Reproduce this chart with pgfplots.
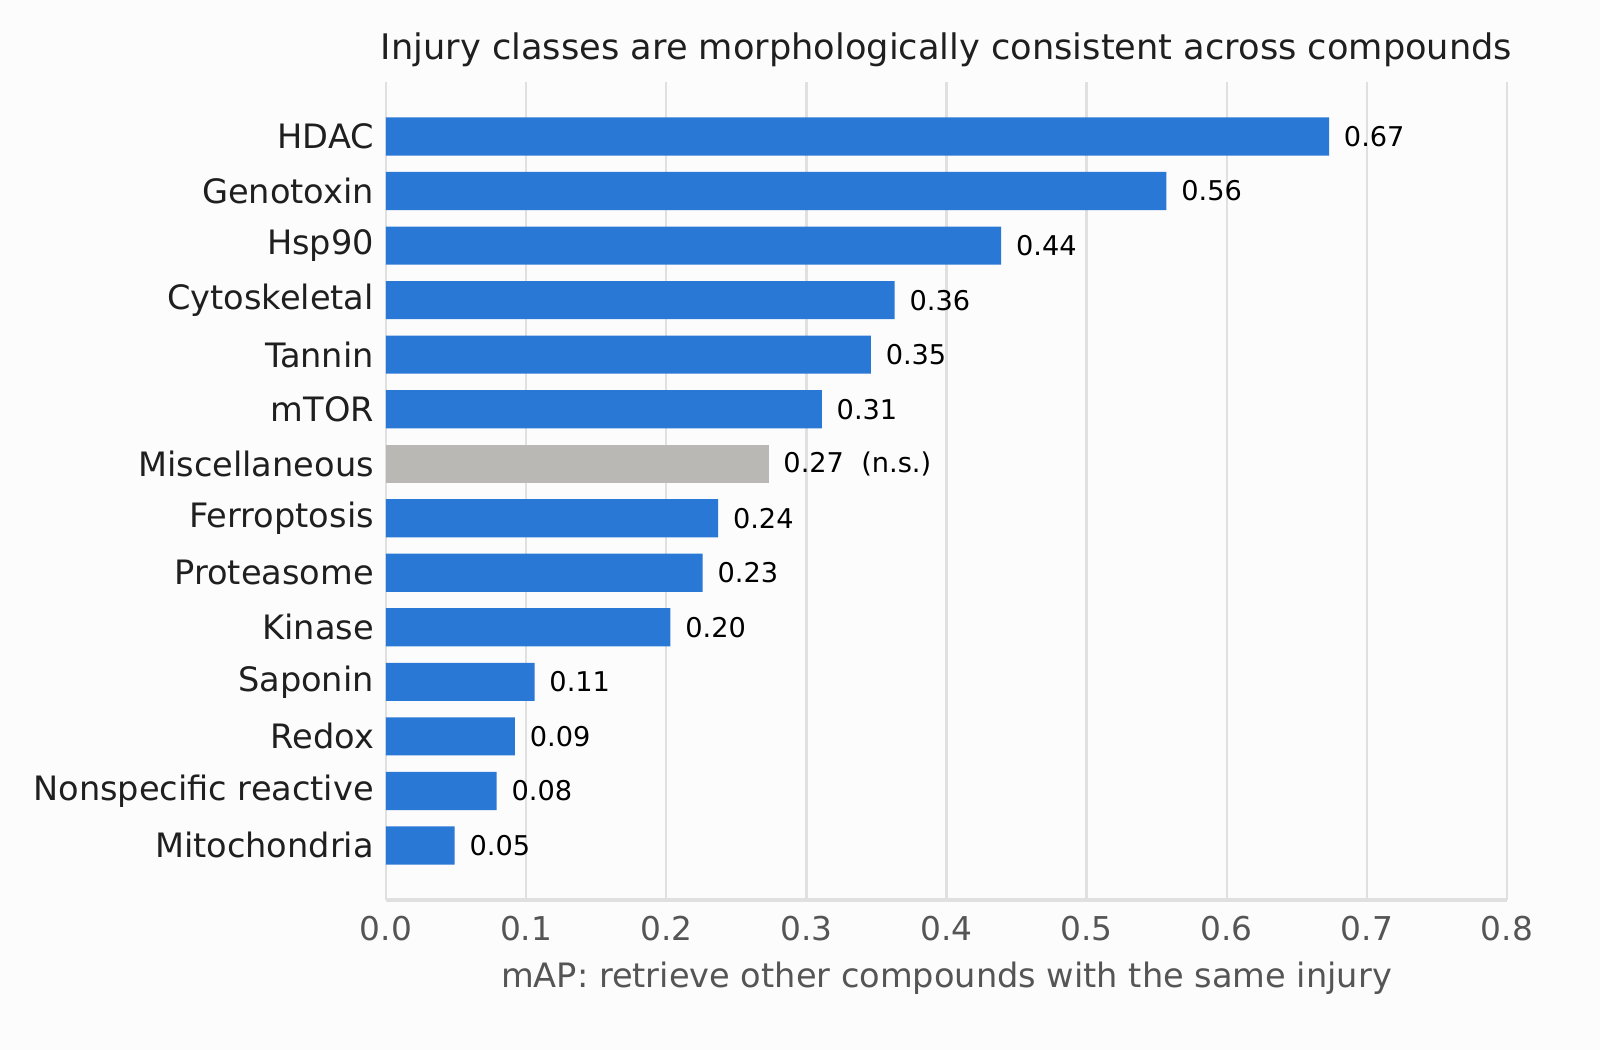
\documentclass[border=0pt]{standalone}
\usepackage{fontspec}
\setmainfont{DejaVu Sans}
\usepackage{pgfplots}
\pgfplotsset{compat=1.18}
\definecolor{barblue}{HTML}{2A78D6}
\definecolor{bargrey}{HTML}{B9B8B4}
\definecolor{gridgrey}{HTML}{E0E0E0}
\definecolor{textgrey}{HTML}{555555}
\definecolor{bg}{HTML}{FCFCFC}

\begin{document}
\begin{tikzpicture}[x=1pt,y=1pt]
  % page background, 1600x1050 px at 0.25pt per px
  \fill[bg] (-96.5,-37.5) rectangle (303.5,225);
  \begin{axis}[
      at={(0,0)}, anchor=south west,
      width=280.25pt, height=204.5pt, scale only axis,
      xbar, bar width=0.7, bar shift=0pt,
      xmin=0, xmax=0.8, ymin=-1, ymax=14,
      separate axis lines,
      axis x line*=bottom, axis y line*=left,
      x axis line style={gridgrey, line width=1pt, -},
      y axis line style={draw=none},
      major tick length=0pt,
      xmajorgrids,
      grid style={gridgrey, line width=0.6pt},
      xtick={0,0.1,0.2,0.3,0.4,0.5,0.6,0.7,0.8},
      xticklabels={0.0,0.1,0.2,0.3,0.4,0.5,0.6,0.7,0.8},
      xticklabel style={font=\fontsize{8.2}{10}\selectfont, text=textgrey, yshift=-0.5pt},
      ytick={0,...,13},
      yticklabels={Mitochondria, Nonspecific reactive, Redox, Saponin, Kinase,
        Proteasome, Ferroptosis, Miscellaneous, mTOR, Tannin, Cytoskeletal,
        Hsp90, Genotoxin, HDAC},
      yticklabel style={font=\fontsize{8.4}{10}\selectfont, text=black!88, xshift=0.5pt},
      point meta=explicit symbolic,
      nodes near coords,
      nodes near coords style={font=\fontsize{6.8}{8}\selectfont, text=black,
        anchor=west, xshift=0.2pt},
      clip=false,
    ]
    % significant classes
    \addplot [draw=none, fill=barblue] coordinates {
      (0.673,13) [0.67]
      (0.557,12) [0.56]
      (0.439,11) [0.44]
      (0.363,10) [0.36]
      (0.346,9)  [0.35]
      (0.311,8)  [0.31]
      (0.237,6)  [0.24]
      (0.226,5)  [0.23]
      (0.203,4)  [0.20]
      (0.106,3)  [0.11]
      (0.092,2)  [0.09]
      (0.079,1)  [0.08]
      (0.049,0)  [0.05]
    };
    % not significant
    \addplot [draw=none, fill=bargrey] coordinates {
      (0.273,7) [{0.27\ \ (n.s.)}]
    };
    \node[anchor=base, font=\fontsize{8.8}{10}\selectfont, text=black!88]
      at (rel axis cs:0.5,1) [yshift=5.5pt]
      {Injury classes are morphologically consistent across compounds};
    \node[anchor=base, font=\fontsize{8.4}{10}\selectfont, text=textgrey]
      at (rel axis cs:0.5,0) [yshift=-22pt]
      {mAP: retrieve other compounds with the same injury};
  \end{axis}
\end{tikzpicture}
\end{document}
